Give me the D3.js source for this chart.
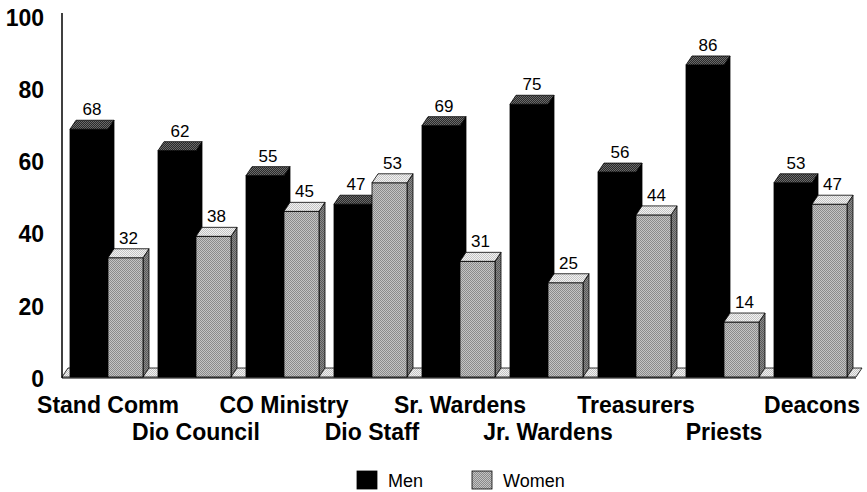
<!DOCTYPE html>
<html>
<head>
<meta charset="utf-8">
<script src="https://cdn.jsdelivr.net/npm/d3@7"></script>
<style>
  body { margin: 0; background: #fff; }
  svg { display: block; font-family: "Liberation Sans", Arial, sans-serif; }
</style>
</head>
<body>
<div id="chart"></div>
<script>
// data
var categories = ["Stand Comm", "Dio Council", "CO Ministry", "Dio Staff", "Sr. Wardens",
                  "Jr. Wardens", "Treasurers", "Priests", "Deacons"];
var menValues = [68, 62, 55, 47, 69, 75, 56, 86, 53];
var womenValues = [32, 38, 45, 53, 31, 25, 44, 14, 47];
var series = ["Men", "Women"];
var yTicks = [0, 20, 40, 60, 80, 100];

var width = 867, height = 492;
var base = 377, dx = 6, dy = 9;

var svg = d3.select("#chart").append("svg")
    .attr("width", width)
    .attr("height", height);

// dithered gray like the old printout
var defs = svg.append("defs");
function dither(id, a, b) {
    var p = defs.append("pattern").attr("id", id)
        .attr("width", 2).attr("height", 2).attr("patternUnits", "userSpaceOnUse");
    p.append("rect").attr("width", 2).attr("height", 2).attr("fill", a);
    p.append("rect").attr("width", 1).attr("height", 1).attr("fill", b);
    p.append("rect").attr("x", 1).attr("y", 1).attr("width", 1).attr("height", 1).attr("fill", b);
}
dither("gray", "#c4c4c4", "#8a8a8a");
dither("grayTop", "#f2f2f2", "#c4c4c4");
dither("graySide", "#8a8a8a", "#5a5a5a");
dither("blackTop", "#2a2a2a", "#6a6a6a");

// scales
var x = d3.scaleBand().domain(categories).range([70, 70 + 88 * categories.length]);
var xs = d3.scaleBand().domain(series).range([0, 76]);
var yBar = d3.scaleLinear().domain([0, 100]).range([372, 15]);
var yAxis = d3.scaleLinear().domain([0, 100]).range([379, 18]);

// floor
svg.append("path")
    .attr("d", "M62," + base + "L" + (x.range()[1] - 6) + "," + base +
               "L" + (x.range()[1]) + "," + (base - dy) + "L" + (62 + dx) + "," + (base - dy) + "Z")
    .attr("fill", "url(#grayTop)")
    .attr("stroke", "#000").attr("stroke-width", 0.8);

// axis lines
svg.append("line").attr("x1", 62).attr("x2", 62).attr("y1", 13).attr("y2", base + 1)
    .attr("stroke", "#000").attr("stroke-width", 1.5);
svg.append("line").attr("x1", 62).attr("x2", x.range()[1] - 6).attr("y1", base + 1).attr("y2", base + 1)
    .attr("stroke", "#000").attr("stroke-width", 1);

var yg = svg.append("g")
    .attr("transform", "translate(62,0)")
    .call(d3.axisLeft(yAxis).tickValues(yTicks).tickSize(0).tickPadding(18));
yg.select(".domain").remove();
yg.selectAll("text")
    .style("font-family", "'Liberation Sans', Arial, sans-serif")
    .style("font-size", "23px")
    .style("font-weight", "bold")
    .attr("fill", "#000");

// bars
var rows = [];
categories.forEach(function (c, i) {
    rows.push({ cat: c, s: "Men", v: menValues[i] });
    rows.push({ cat: c, s: "Women", v: womenValues[i] });
});

var styles = {
    Men: { front: "#000", top: "url(#blackTop)", side: "#000" },
    Women: { front: "url(#gray)", top: "url(#grayTop)", side: "url(#graySide)" }
};

var bars = svg.append("g").selectAll("g")
    .data(rows)
    .join("g");

bars.each(function (d) {
    var g = d3.select(this);
    var x0 = x(d.cat) + xs(d.s);
    var w = d.s === "Men" ? xs.bandwidth() : xs.bandwidth() - 3;
    var t = yBar(d.v);
    var st = styles[d.s];
    // side
    g.append("path")
        .attr("d", "M" + (x0 + w) + "," + t + "L" + (x0 + w + dx) + "," + (t - dy) +
                   "L" + (x0 + w + dx) + "," + (base - dy) + "L" + (x0 + w) + "," + base + "Z")
        .attr("fill", st.side).attr("stroke", "#000").attr("stroke-width", 0.8);
    // front
    g.append("rect")
        .attr("x", x0).attr("y", t).attr("width", w).attr("height", base - t)
        .attr("fill", st.front).attr("stroke", "#000").attr("stroke-width", 0.8);
    // top
    g.append("path")
        .attr("d", "M" + x0 + "," + t + "L" + (x0 + w) + "," + t +
                   "L" + (x0 + w + dx) + "," + (t - dy) + "L" + (x0 + dx) + "," + (t - dy) + "Z")
        .attr("fill", st.top).attr("stroke", "#000").attr("stroke-width", 0.8);
    // value label
    g.append("text")
        .attr("x", x0 + w / 2 + dx / 2)
        .attr("y", t - dy - 5)
        .attr("text-anchor", "middle")
        .style("font-size", "17px")
        .text(d.v);
});

// category labels, staggered in two rows
svg.append("g").selectAll("text")
    .data(categories)
    .join("text")
    .attr("x", function (d) { return x(d) + 38; })
    .attr("y", function (d, i) { return i % 2 === 0 ? 413 : 440; })
    .attr("text-anchor", "middle")
    .style("font-size", "23px")
    .style("font-weight", "bold")
    .text(function (d) { return d; });

// legend
var legend = svg.append("g").selectAll("g")
    .data(series)
    .join("g")
    .attr("transform", function (d, i) { return "translate(" + (357 + i * 115) + ",471)"; });

legend.append("rect")
    .attr("width", 20).attr("height", 18)
    .attr("fill", function (d) { return d === "Men" ? "#000" : "url(#gray)"; })
    .attr("stroke", "#000").attr("stroke-width", 0.8);

legend.append("text")
    .attr("x", 31).attr("y", 16)
    .style("font-size", "18px")
    .text(function (d) { return d; });
</script>
</body>
</html>
